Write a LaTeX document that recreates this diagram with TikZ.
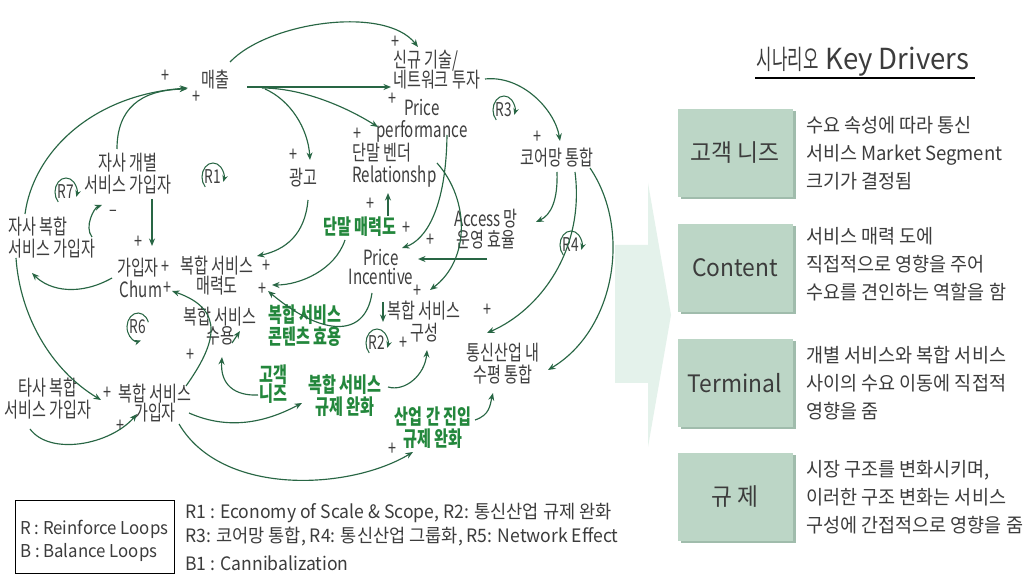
\documentclass[tikz,border=0pt]{standalone}
\usepackage{fontspec}
\setmainfont{Noto Sans CJK KR}[FakeStretch=0.72]
\newfontfamily\latw{Noto Sans CJK KR}[FakeStretch=0.95]
\newfontfamily\narrowk{Noto Sans CJK KR}[FakeStretch=0.62]
\usetikzlibrary{arrows.meta,calc}
\definecolor{txt}{RGB}{62,62,62}
\definecolor{gtxt}{RGB}{35,135,60}
\definecolor{garr}{RGB}{40,102,68}
\definecolor{boxf}{RGB}{188,214,198}
\definecolor{boxs}{RGB}{160,188,172}
\definecolor{bigarr}{RGB}{228,242,235}
\definecolor{dtxt}{RGB}{60,60,60}
\newcommand\cwloop[3]{%
  \node[looplbl] (#1) at #2 {#3};
  \draw[looparr] ($(#1)+(135:11 and 14)$) arc[start angle=135,end angle=380,x radius=11,y radius=14];}
\newcommand\ccwloop[3]{%
  \node[looplbl] (#1) at #2 {#3};
  \draw[looparr] ($(#1)+(340:11 and 14)$) arc[start angle=340,end angle=75,x radius=11,y radius=14];}
\newcommand\plusnode[2]{\node[pl] (#1) at #2 {+};}
\begin{document}
\begin{tikzpicture}[x=1pt,y=-1pt,
  lbl/.style={text=txt, font=\fontsize{21}{22}\selectfont, inner sep=0pt, align=center},
  glbl/.style={text=gtxt, font=\fontsize{21}{22}\selectfont\bfseries, inner sep=0pt, align=center},
  pl/.style={text=txt, font=\fontsize{20}{20}\selectfont, inner sep=0pt},
  arr/.style={draw=garr, line width=1.15pt, -{Stealth[length=7.5pt,width=6pt]}},
  looparr/.style={draw=garr, line width=1.05pt, -{Stealth[length=6.5pt,width=5.5pt]}},
  looplbl/.style={text=txt, font=\fontsize{19}{19}\selectfont, inner sep=0pt},
  leg/.style={text=dtxt, font=\latw\fontsize{18.5}{20}\selectfont, inner sep=0pt, anchor=west},
  legin/.style={text=dtxt, font=\latw\fontsize{17.7}{20}\selectfont, inner sep=0pt, anchor=west},
  keybox/.style={text=dtxt, font=\latw\fontsize{24}{26}\selectfont, inner sep=0pt},
  desc/.style={text=dtxt, font=\latw\fontsize{19.5}{28}\selectfont, inner sep=0pt, align=left, anchor=west}
]
\useasboundingbox (0,0) rectangle (1029,577);
\fill[white] (0,0) rectangle (1029,577);

% ---------------- nodes of the causal loop diagram
\node[lbl] (sales) at (215,80) {매출};
\node[lbl, align=left, anchor=west] (newtech) at (393,70) {신규 기술/\\[-2pt]네트워크 투자};
\node[lbl] (pp) at (422,121) {Price\\performance};
\node[lbl, align=left, anchor=west] (vendor) at (352,165) {단말 벤더\\Relationshp};
\node[lbl] (core) at (557,158) {코어망 통합};
\node[lbl] (ad) at (303,178) {광고};
\node[lbl] (own) at (128,174) {자사 개별\\서비스 가입자};
\node[lbl, align=left, anchor=west] (ownb) at (8,238) {자사 복합\\서비스 가입자};
\node[lbl] (sub) at (138,268) {가입자};
\node[lbl] (chum) at (141,289) {Chum};
\node[lbl] (attr) at (217,276) {복합 서비스\\[-2pt]매력도};
\node[glbl] (tattr) at (360,227) {단말 매력도};
\node[lbl] (pinc) at (381,267) {Price\\[-3pt]Incentive};
\node[lbl] (access) at (486,229) {Access 망\\[-1pt]운영 효율};
\node[glbl] (content) at (305,326) {복합 서비스\\콘텐츠 효용};
\node[lbl] (comp) at (424,322) {복합 서비스\\구성};
\node[lbl] (accept) at (220,326) {복합 서비스\\[-3pt]수용};
\node[lbl] (horiz) at (503,364) {통신산업 내\\수평 통합};
\node[glbl] (needs) at (273,384) {고객\\[-3pt]니즈};
\node[glbl] (reg1) at (345,396) {복합 서비스\\규제 완화};
\node[glbl] (reg2) at (433,428) {산업 간 진입\\규제 완화};
\node[lbl] (other) at (48,399) {타사 복합\\서비스 가입자};
\node[lbl] (csub) at (155,403) {복합 서비스\\[-3pt]가입자};

% ---------------- polarity signs
\plusnode{p1}{(165,76)}
\plusnode{p2}{(196,97)}
\plusnode{p3}{(395,42)}
\plusnode{p4}{(392,99)}
\plusnode{p5}{(357,134)}
\plusnode{p6}{(293,155)}
\plusnode{p7}{(537,137)}
\plusnode{p8}{(138,242)}
\node[pl] (m1) at (113,213) {–};
\plusnode{p9}{(165,267)}
\plusnode{p10}{(266,266)}
\plusnode{p11}{(167,288)}
\plusnode{p12}{(262,289)}
\plusnode{p13}{(370,204)}
\plusnode{p14}{(406,228)}
\plusnode{p15}{(430,240)}
\plusnode{p16}{(417,291)}
\plusnode{p17}{(403,343)}
\plusnode{p18}{(190,355)}
\plusnode{p19}{(487,310)}
\plusnode{p20}{(107,393)}
\plusnode{p21}{(120,426)}
\plusnode{p22}{(392,449)}

% ---------------- loops
\cwloop{R1}{(213,177)}{R1}
\cwloop{R7}{(66,192)}{R7}
\ccwloop{R6}{(138,327)}{R6}
\cwloop{R2}{(377,343)}{R2}
\cwloop{R3}{(504,110)}{R3}
\cwloop{R4}{(571,245)}{R4}

% ---------------- connectors
\draw[arr] ($(ownb.west)+(17,-24)$) .. controls +(8,-60) and +(-98,7) .. ($(sales)+(-27,8)$);
\draw[arr] ($(own)+(-11,-25)$) .. controls +(0,-40) and +(-47,1) .. ($(sales)+(-28,9)$);
\draw[arr] ($(sales)+(15,-18)$) .. controls +(38,-40) and +(-33,-42) .. ($(newtech.west)+(25,-23)$);
\draw[arr] ($(sales)+(32,7)$) -- ($(newtech.west)+(-2,17)$);
\draw[arr] ($(sales)+(47,8)$) .. controls +(38,0) and +(-35,-22) .. ($(pp)+(-44,6)$);
\draw[arr] ($(sales)+(50,9)$) .. controls +(25,11) and +(-2,-32) .. ($(ad)+(7,-18)$);
\draw[arr] ($(newtech.west)+(92,9)$) .. controls +(37,-4) and +(-5,-31) .. ($(core)+(3,-17)$);
\draw[arr] ($(core)+(0,14)$) .. controls +(1,28) and +(15,-7) .. ($(access)+(50,-7)$);
\draw[arr] ($(core)+(18,14)$) .. controls +(10,78) and +(53,-23) .. ($(horiz)+(-16,-31)$);
\draw[arr] ($(core)+(33,10)$) .. controls +(42,62) and +(67,-40) .. ($(horiz)+(45,6)$);
\draw[arr] ($(access)+(1,30)$) -- ($(pinc)+(37,-8)$);
\draw[arr] ($(vendor.west)+(85,-2)$) .. controls +(33,37) and +(40,-30) .. ($(comp)+(6,-32)$);
\draw[arr] ($(pp)+(25,14)$) .. controls +(-1,75) and +(23,-8) .. ($(pinc)+(21,-19)$);
\draw[arr] ($(tattr)+(28,-11)$) -- ($(vendor.west)+(36,28)$);
\draw[arr] ($(tattr)+(-15,13)$) .. controls +(-10,30) and +(28,0) .. ($(attr)+(55,9)$);
\draw[arr] ($(ad)+(5,22)$) .. controls +(-3,35) and +(28,-6) .. ($(attr)+(40,-20)$);
\draw[arr] ($(own)+(24,25)$) -- ($(sub)+(14,-22)$);
\draw[arr] ($(sub)+(-26,10)$) .. controls +(-32,18) and +(18,18) .. ($(ownb.west)+(24,35)$);
\draw[arr] ($(ownb.west)+(84,-1)$) .. controls +(-8,-10) and +(-8,3) .. ($(own)+(-26,31)$);
\draw[arr] ($(pinc)+(-9,26)$) .. controls +(-7,47) and +(52,44) .. ($(attr)+(51,15)$);
\draw[arr] ($(pinc)+(2,35)$) -- ($(comp)+(-41,0)$);
\draw[arr] ($(reg1)+(43,-9)$) .. controls +(17,5) and +(-2,25) .. ($(comp)+(3,28)$);
\draw[arr] ($(csub)+(34,10)$) .. controls +(43,19) and +(-32,17) .. ($(reg1)+(-43,7)$);
\draw[arr] ($(csub)+(24,21)$) .. controls +(43,73) and +(-63,38) .. ($(reg2)+(-20,24)$);
\draw[arr] ($(reg2)+(42,-8)$) .. controls +(15,-5) and +(-3,12) .. ($(horiz)+(-10,29)$);
\draw[arr] ($(needs)+(-15,11)$) .. controls +(-23,1) and +(-2,28) .. ($(accept)+(2,31)$);
\draw[arr] ($(csub)+(31,-17)$) .. controls +(29,-41) and +(55,19) .. ($(chum)+(31,2)$);
\draw[arr] ($(accept)+(12,17)$) -- ($(accept)+(20,5)$);
\draw[arr] ($(ownb.west)+(8,20)$) .. controls +(4,58) and +(-50,-30) .. ($(csub)+(-54,-3)$);
\draw[arr] ($(other)+(-18,30)$) .. controls +(20,27) and +(-27,31) .. ($(csub)+(-18,11)$);

% ---------------- legend
\node[draw=black, line width=0.8pt, minimum width=159pt, minimum height=73pt, inner sep=0pt, anchor=north west] (legbox) at (15,500) {};
\node[legin] (legr) at (20,529) {R : Reinforce Loops};
\node[legin] (legb) at (20,552) {B : Balance Loops};
\node[leg] (leg1) at (185,513) {R1 : Economy of Scale \& Scope, R2: 통신산업 규제 완화};
\node[leg] (leg2) at (185,537) {R3: 코어망 통합, R4: 통신산업 그룹화, R5: Network Effect};
\node[leg] (leg3) at (185,563) {B1 : Cannibalization};

% ---------------- big arrow
\fill[bigarr] (615,245) -- (648,245) -- (648,183) -- (671,315) -- (648,447) -- (648,383) -- (615,383) -- cycle;

% ---------------- right panel
\node[inner sep=0pt, text=dtxt] (title) at (863,62) {{\narrowk\fontsize{27}{30}\selectfont 시나리오}\hspace{7pt}{\latw\fontsize{29}{30}\selectfont Key Drivers}};
\draw[line width=1.2pt, black] (755,78) -- (975,78);

\foreach \c in {153,268,383,497}{
  \fill[boxs] (681,\c-42) rectangle (796,\c+46);
  \fill[boxf] (678,\c-44) rectangle (793,\c+44);
}
\node[keybox] (kb1) at (735,153) {고객 니즈};
\node[keybox] (kb2) at (735,268) {Content};
\node[keybox] (kb3) at (735,383) {Terminal};
\node[keybox] (kb4) at (735,497) {규 제};

\node[desc] (d1) at (806,153) {수요 속성에 따라 통신\\서비스 Market Segment\\크기가 결정됨};
\node[desc] (d2) at (806,264) {서비스 매력 도에\\직접적으로 영향을 주어\\수요를 견인하는 역할을 함};
\node[desc] (d3) at (806,383) {개별 서비스와 복합 서비스\\사이의 수요 이동에 직접적\\영향을 줌};
\node[desc] (d4) at (806,497) {시장 구조를 변화시키며,\\이러한 구조 변화는 서비스\\구성에 간접적으로 영향을 줌};
\end{tikzpicture}
\end{document}
